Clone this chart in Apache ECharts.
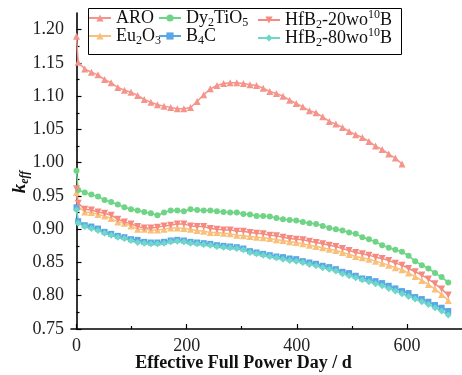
<!DOCTYPE html>
<html>
<head>
<meta charset="utf-8">
<script src="https://cdn.jsdelivr.net/npm/echarts@6/dist/echarts.min.js"></script>
<style>
  html, body { margin: 0; padding: 0; background: #fff; }
  #chart { width: 462px; height: 375px; }
</style>
</head>
<body>
<div id="chart"></div>
<script>
// Burnup steps (effective full power days)
var days = [0, 3, 15, 27, 39, 51, 63, 75, 87, 99, 111, 123, 135, 147, 159, 171, 183, 195, 207, 219,
  231, 243, 255, 267, 279, 291, 303, 315, 327, 339, 351, 363, 375, 387, 399, 411, 423, 435, 447, 459,
  471, 483, 495, 507, 519, 531, 543, 555, 567, 579, 591, 603, 615, 627, 639, 651, 663, 675];

// k_eff per absorber option
var aro = [1.190, 1.151, 1.141, 1.136, 1.132, 1.125, 1.120, 1.113, 1.109, 1.106, 1.101, 1.095, 1.091, 1.087,
  1.085, 1.083, 1.081, 1.081, 1.083, 1.092, 1.102, 1.111, 1.116, 1.119, 1.120, 1.120, 1.119, 1.117, 1.116,
  1.112, 1.107, 1.104, 1.100, 1.094, 1.089, 1.084, 1.078, 1.075, 1.069, 1.062, 1.058, 1.053, 1.047, 1.042,
  1.038, 1.032, 1.025, 1.020, 1.013, 1.007, 0.998];
var dy2tio5 = [0.988, 0.959, 0.955, 0.952, 0.949, 0.944, 0.941, 0.937, 0.933, 0.930, 0.928, 0.926, 0.924, 0.921,
  0.925, 0.928, 0.928, 0.927, 0.930, 0.929, 0.928, 0.928, 0.927, 0.926, 0.925, 0.925, 0.923, 0.922, 0.920,
  0.920, 0.919, 0.917, 0.915, 0.914, 0.913, 0.911, 0.909, 0.908, 0.905, 0.902, 0.900, 0.898, 0.895, 0.893,
  0.888, 0.885, 0.881, 0.876, 0.872, 0.869, 0.866, 0.860, 0.852, 0.846, 0.841, 0.834, 0.828, 0.820];
var hfb2_20 = [0.961, 0.939, 0.930, 0.929, 0.926, 0.924, 0.921, 0.915, 0.911, 0.908, 0.904, 0.902, 0.902, 0.903,
  0.905, 0.906, 0.908, 0.908, 0.905, 0.904, 0.904, 0.901, 0.900, 0.899, 0.899, 0.897, 0.897, 0.895, 0.894,
  0.893, 0.891, 0.890, 0.888, 0.886, 0.885, 0.884, 0.882, 0.880, 0.878, 0.876, 0.874, 0.871, 0.868, 0.865,
  0.863, 0.861, 0.858, 0.856, 0.853, 0.849, 0.846, 0.841, 0.836, 0.831, 0.825, 0.818, 0.810, 0.801];
var eu2o3 = [0.955, 0.934, 0.926, 0.925, 0.922, 0.920, 0.916, 0.911, 0.909, 0.905, 0.900, 0.900, 0.899, 0.899,
  0.900, 0.902, 0.902, 0.901, 0.900, 0.898, 0.897, 0.895, 0.895, 0.894, 0.893, 0.891, 0.890, 0.889, 0.888,
  0.887, 0.886, 0.884, 0.883, 0.881, 0.880, 0.878, 0.876, 0.874, 0.872, 0.870, 0.868, 0.865, 0.862, 0.859,
  0.857, 0.855, 0.852, 0.849, 0.846, 0.842, 0.839, 0.834, 0.829, 0.823, 0.817, 0.810, 0.802, 0.793];
var b4c = [0.933, 0.912, 0.906, 0.904, 0.901, 0.896, 0.893, 0.890, 0.888, 0.885, 0.884, 0.881, 0.880, 0.880,
  0.881, 0.883, 0.884, 0.883, 0.881, 0.880, 0.879, 0.878, 0.876, 0.875, 0.874, 0.873, 0.871, 0.867, 0.865,
  0.863, 0.861, 0.859, 0.858, 0.856, 0.855, 0.852, 0.850, 0.848, 0.845, 0.843, 0.840, 0.836, 0.834, 0.830,
  0.826, 0.825, 0.822, 0.819, 0.815, 0.811, 0.807, 0.804, 0.798, 0.795, 0.791, 0.786, 0.782, 0.777];
var hfb2_80 = [0.929, 0.909, 0.904, 0.901, 0.898, 0.894, 0.891, 0.888, 0.886, 0.883, 0.880, 0.879, 0.878, 0.878,
  0.879, 0.881, 0.882, 0.881, 0.879, 0.878, 0.877, 0.876, 0.874, 0.873, 0.872, 0.871, 0.869, 0.865, 0.863,
  0.861, 0.859, 0.857, 0.855, 0.853, 0.852, 0.850, 0.847, 0.845, 0.842, 0.840, 0.837, 0.833, 0.830, 0.827,
  0.824, 0.821, 0.818, 0.815, 0.811, 0.807, 0.803, 0.799, 0.795, 0.791, 0.787, 0.782, 0.777, 0.771];

// Axis ticks
var xMajor = [0, 200, 400, 600];
var xMinor = [100, 300, 500];
var yMajor = [0.75, 0.80, 0.85, 0.90, 0.95, 1.00, 1.05, 1.10, 1.15, 1.20];
var yMinor = [0.775, 0.825, 0.875, 0.925, 0.975, 1.025, 1.075, 1.125, 1.175];

var FONT = '"Liberation Serif", "Times New Roman", serif';

function pairs(vals) {
  return vals.map(function (v, i) { return [days[i], v]; });
}

var legendRich = {
  n: { fontFamily: FONT, fontSize: 18, color: '#111', lineHeight: 22, verticalAlign: 'middle' },
  s: { fontFamily: FONT, fontSize: 12, color: '#111', verticalAlign: 'bottom' },
  p: { fontFamily: FONT, fontSize: 12, color: '#111', verticalAlign: 'top' }
};
var legendText = {
  'ARO': '{n|ARO}',
  'Eu2O3': '{n|Eu}{s|2}{n|O}{s|3}',
  'Dy2TiO5': '{n|Dy}{s|2}{n|TiO}{s|5}',
  'B4C': '{n|B}{s|4}{n|C}',
  'HfB2-20wo10B': '{n|HfB}{s|2}{n|-20wo}{p|10}{n|B}',
  'HfB2-80wo10B': '{n|HfB}{s|2}{n|-80wo}{p|10}{n|B}'
};
var legendSlots = [
  { name: 'ARO', left: 88, top: 9 },
  { name: 'Eu2O3', left: 88, top: 27 },
  { name: 'Dy2TiO5', left: 158, top: 9 },
  { name: 'B4C', left: 158, top: 27 },
  { name: 'HfB2-20wo10B', left: 257, top: 9 },
  { name: 'HfB2-80wo10B', left: 257, top: 27 }
];
var legends = legendSlots.map(function (s) {
  return {
    data: [s.name], left: s.left, top: s.top, padding: 0,
    itemWidth: 22, itemHeight: 9, itemGap: 0,
    selectedMode: false,
    formatter: function (name) { return legendText[name]; },
    textStyle: { fontFamily: FONT, fontSize: 18, color: '#111', rich: legendRich }
  };
});

function lineSeries(name, vals, color, symbol, rotate, size) {
  return {
    name: name, type: 'line', data: pairs(vals),
    symbol: symbol, symbolSize: size, symbolRotate: rotate,
    showSymbol: true, showAllSymbol: true,
    lineStyle: { color: color, width: 1.5 },
    itemStyle: { color: color, borderWidth: 0 },
    emphasis: { disabled: true },
    z: 3
  };
}

var chart = echarts.init(document.getElementById('chart'), null, { renderer: 'canvas' });
chart.setOption({
  animation: false,
  backgroundColor: '#fff',
  grid: { left: 71, right: -4, top: 13, bottom: 46, containLabel: false },
  legend: legends,
  xAxis: [{
    type: 'value', min: -10, max: 700, position: 'bottom',
    axisLine: { lineStyle: { color: '#000', width: 1.6 } },
    axisTick: { inside: true, length: 5, customValues: xMajor, lineStyle: { color: '#000', width: 1.2 } },
    axisLabel: { customValues: xMajor, margin: 8, fontFamily: FONT, fontSize: 18, color: '#222' },
    splitLine: { show: false }
  }, {
    type: 'value', min: -10, max: 700, position: 'bottom', gridIndex: 0,
    axisLine: { show: false },
    axisTick: { inside: true, length: 3, customValues: xMinor, lineStyle: { color: '#000', width: 1.2 } },
    axisLabel: { show: false },
    splitLine: { show: false }
  }],
  yAxis: [{
    type: 'value', min: 0.75, max: 1.225, position: 'left',
    axisLine: { show: true, lineStyle: { color: '#000', width: 1.6 } },
    axisTick: { show: true, inside: true, length: 5, customValues: yMajor, lineStyle: { color: '#000', width: 1.2 } },
    axisLabel: {
      customValues: yMajor, margin: 7, fontFamily: FONT, fontSize: 18, color: '#222',
      formatter: function (v) { return v.toFixed(2); }
    },
    splitLine: { show: false }
  }, {
    type: 'value', min: 0.75, max: 1.225, position: 'left', gridIndex: 0,
    axisLine: { show: false },
    axisTick: { show: true, inside: true, length: 3, customValues: yMinor, lineStyle: { color: '#000', width: 1.2 } },
    axisLabel: { show: false },
    splitLine: { show: false }
  }],
  graphic: [
    {
      type: 'rect', left: 86, top: 6, z: 10, silent: true,
      shape: { width: 313, height: 46 },
      style: { fill: 'none', stroke: '#000', lineWidth: 1 }
    },
    {
      type: 'text', x: 243.5, y: 363, z: 10, silent: true,
      style: {
        text: 'Effective Full Power Day / d',
        font: 'bold 18px ' + FONT, fill: '#111',
        align: 'center', verticalAlign: 'middle'
      }
    },
    {
      type: 'text', x: 20, y: 182, rotation: Math.PI / 2, z: 10, silent: true,
      style: {
        text: '{k|k}{e|eff}',
        align: 'center', verticalAlign: 'middle',
        rich: {
          k: { font: 'italic bold 19px ' + FONT, fill: '#111', lineHeight: 22, verticalAlign: 'middle' },
          e: { font: 'italic bold 12px ' + FONT, fill: '#111', verticalAlign: 'bottom' }
        }
      }
    }
  ],
  series: [
    lineSeries('ARO', aro.slice(), '#F5948A', 'triangle', 0, 7),
    lineSeries('Eu2O3', eu2o3, '#F8C07A', 'triangle', 0, 7),
    lineSeries('Dy2TiO5', dy2tio5, '#6FD485', 'circle', 0, 6),
    lineSeries('B4C', b4c, '#5AA6E6', 'rect', 0, 6),
    lineSeries('HfB2-20wo10B', hfb2_20, '#F58A80', 'triangle', 180, 7),
    lineSeries('HfB2-80wo10B', hfb2_80, '#6DD8C8', 'diamond', 0, 7)
  ]
});
</script>
</body>
</html>
